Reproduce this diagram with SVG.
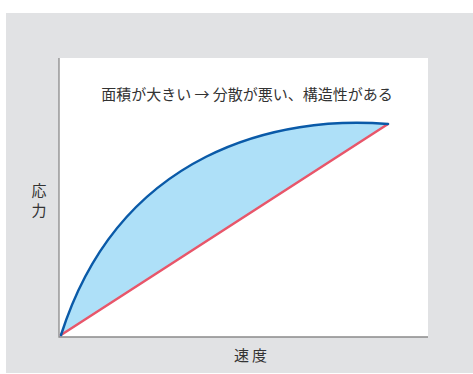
<svg xmlns="http://www.w3.org/2000/svg" width="473" height="374" viewBox="0 0 473 374">
<style>
.t{font-family:"Noto Sans CJK JP","Noto Sans",sans-serif;font-size:15px;fill:#333}
</style>
<rect x="0" y="0" width="473" height="374" fill="#fff"/>
<rect x="6" y="13" width="467" height="360" fill="#e1e2e4"/>
<rect x="59" y="58" width="369" height="279" fill="#fff"/>
<g id="axes" stroke="#8a8a8a" stroke-width="1.3" fill="none">
<path d="M59,58 V337 H428"/>
</g>
<g id="area">
<path d="M61,335 C120,150 280,115 388,124 Z" fill="#aee0f8"/>
</g>
<g id="connectors" fill="none" stroke-width="2.5" stroke-linecap="round">
<path d="M61,335 L388,124" stroke="#e8566a"/>
<path d="M61,335 C120,150 280,115 388,124" stroke="#0a5aa8"/>
</g>
<g id="title"><text class="t" x="247" y="100" text-anchor="middle" font-size="15.5">面積が大きい → 分散が悪い、構造性がある</text></g>
<g id="ylabel"><text class="t" x="39" y="196" text-anchor="middle">応</text><text class="t" x="39" y="216" text-anchor="middle">力</text></g>
<g id="xlabel"><text class="t" x="252" y="361" text-anchor="middle" letter-spacing="3">速度</text></g>
</svg>
